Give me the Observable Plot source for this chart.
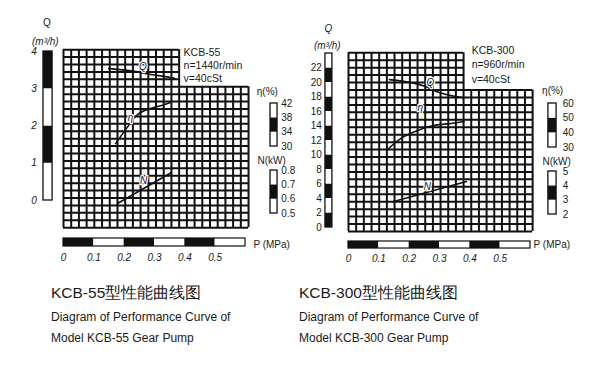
<!DOCTYPE html>
<html><head><meta charset="utf-8">
<script src="https://cdn.jsdelivr.net/npm/d3@7"></script>
<script src="https://cdn.jsdelivr.net/npm/@observablehq/plot@0.6"></script>
<style>
html,body{margin:0;padding:0;background:#fff;}
#root{position:relative;width:592px;height:369px;overflow:hidden;font-family:"Liberation Sans",Arial,sans-serif;color:#1a1a1a;}
#root svg{position:absolute;left:0;top:0;}
.cap{position:absolute;white-space:nowrap;}
.t1{font-size:15.5px;line-height:20px;}
.t2{font-size:12px;line-height:16px;}
</style></head>
<body><div id="root"></div>
<script>
const FONT = '"Liberation Sans", Arial, sans-serif';
const INK = "#111";

// shared pressure axis
const P_TICKS = [0, 0.1, 0.2, 0.3, 0.4, 0.5];
const P_BAR = [0, 0.1, 0.2, 0.3, 0.4, 0.5, 0.6];

// ---- KCB-55 ----
const L_Q_BAR = [0, 1, 2, 3, 4];
const L_Q_TICKS = [0, 1, 2, 3, 4];
const L_ETA_BAR = [30, 34, 38, 42];
const L_N_BAR = [0.5, 0.6, 0.7, 0.8];
const L_Q_P = [0.149, 0.24, 0.27, 0.353, 0.366];
const L_Q_V = [3.54, 3.46, 3.41, 3.30, 3.28];
const L_ETA_P = [0.172, 0.195, 0.215, 0.231, 0.254, 0.287, 0.32, 0.353];
const L_ETA_V = [30.8, 33.6, 35.9, 37.8, 39.5, 40.6, 41.4, 42.3];
const L_N_P = [0.178, 0.356];
const L_N_V = [0.57, 0.786];
const L_INFO = ["KCB-55", "n=1440r/min", "v=40cSt"];

// ---- KCB-300 ----
const R_Q_BAR = [0, 2, 4, 6, 8, 10, 12, 14, 16, 18, 20, 22, 24];
const R_Q_TICKS = [0, 2, 4, 6, 8, 10, 12, 14, 16, 18, 20, 22];
const R_ETA_BAR = [30, 40, 50, 60];
const R_N_BAR = [2, 3, 4, 5];
const R_Q_P = [0.135, 0.254, 0.281, 0.38];
const R_Q_V = [20.4, 19.45, 18.9, 17.9];
const R_ETA_P = [0.129, 0.172, 0.228, 0.281, 0.337, 0.38];
const R_ETA_V = [28.6, 36.1, 41.6, 45.0, 46.4, 47.7];
const R_N_P = [0.149, 0.389];
const R_N_V = [2.91, 4.3];
const R_INFO = ["KCB-300", "n=960r/min", "v=40cSt"];

const segs = (b, firstDark) => d3.range(b.length - 1).map(i => ({lo: b[i], hi: b[i + 1], fill: ((i % 2 === 0) === firstDark) ? INK : "#fff"}));
const pts = (ps, vs) => ps.map((p, i) => ({p, v: vs[i]}));
const fmtP = d => d === 0 ? "0" : d3.format(".1f")(d);

function layer(xRange, yDomain, yRange, marks) {
  return Plot.plot({
    width: 592, height: 270, margin: 0,
    x: {domain: [0, 0.6], range: xRange, axis: null},
    y: {domain: yDomain, range: yRange, axis: null},
    color: {type: "identity"},
    style: {background: "transparent", overflow: "visible", fontFamily: FONT, color: "#1a1a1a"},
    marks
  });
}

function gridMarks(pExt, qExt) {
  const [p0, p1] = pExt, [q0, q1] = qExt;
  const dp = (p1 - p0) / 24, dq = (q1 - q0) / 24;
  const pUp = p0 + 15 * dp, qUp = q1 - 5 * dq;
  const cols = d3.range(25).map(i => ({p: p0 + i * dp, lo: q0, hi: i <= 15 ? q1 : qUp}));
  const rows = d3.range(25).map(j => ({q: q0 + j * dq, lo: p0, hi: j > 19 ? pUp : p1}));
  return [
    Plot.ruleX(cols, {x: "p", y1: "lo", y2: "hi", stroke: INK, strokeWidth: 2}),
    Plot.ruleY(rows, {y: "q", x1: "lo", x2: "hi", stroke: INK, strokeWidth: 2})
  ];
}

function barMarks(bounds, firstDark, x1, x2) {
  return [
    Plot.rect(segs(bounds, firstDark), {x1, x2, y1: "lo", y2: "hi", fill: "fill"}),
    Plot.rect([0], {x1, x2, y1: bounds[0], y2: bounds[bounds.length - 1], fill: "none", stroke: INK, strokeWidth: 1.3})
  ];
}

function pBarMarks(y1, y2, labelY, unitX, unitY) {
  return [
    Plot.rect(segs(P_BAR, true), {x1: "lo", x2: "hi", y1, y2, fill: "fill"}),
    Plot.rect([0], {x1: 0, x2: 0.6, y1, y2, fill: "none", stroke: INK, strokeWidth: 1.2}),
    Plot.text(P_TICKS, {x: d => d, y: labelY, text: fmtP, fontStyle: "italic", fontSize: 10}),
    Plot.text(["P (MPa)"], {x: unitX, y: unitY, text: d => d, textAnchor: "start", fontSize: 10})
  ];
}

const curveLabel = (t, x, y) => Plot.text([t], {x, y, text: d => d, fontStyle: "italic", fontSize: 10, stroke: "#fff", strokeWidth: 2.5, fill: "#222"});
const curve = (data, c) => Plot.line(data, {x: "p", y: "v", curve: c, stroke: INK, strokeWidth: 1.6});

const root = document.getElementById("root");

// ===== Left panel (KCB-55) =====
const LX = [63, 245];
root.append(layer(LX, [0, 4], [200, 51], [
  ...gridMarks([0, 0.61], [-0.73, 4.05]),
  ...barMarks(L_Q_BAR, false, -0.066, -0.036),
  Plot.text(L_Q_TICKS, {x: -0.088, y: d => d, text: d => String(d), textAnchor: "end", fontStyle: "italic", fontSize: 10}),
  Plot.text(["Q"], {x: -0.055, y: 4.78, text: d => d, fontSize: 10}),
  Plot.text(["(m³/h)"], {x: -0.06, y: 4.26, text: d => d, fontSize: 10, fontStyle: "italic"}),
  ...pBarMarks(-1.02, -1.235, -1.53, 0.626, -1.18),
  curve(pts(L_Q_P, L_Q_V), "monotone-x"),
  curveLabel("Q", 0.262, 3.6),
  Plot.text(L_INFO, {x: 0.396, y: (d, i) => 3.97 - i * 0.35, text: d => d, textAnchor: "start", fontSize: 10.5})
]));
root.append(layer(LX, [30, 42], [146, 103], [
  ...barMarks(L_ETA_BAR, false, 0.6825, 0.7056),
  Plot.text(L_ETA_BAR, {x: 0.718, y: d => d, text: d => String(d), textAnchor: "start", fontSize: 10}),
  Plot.text(["η(%)"], {x: 0.672, y: 45.4, text: d => d, fontSize: 10}),
  curve(pts(L_ETA_P, L_ETA_V), "natural"),
  curveLabel("η", 0.221, 38.1)
]));
root.append(layer(LX, [0.5, 0.8], [213, 170], [
  ...barMarks(L_N_BAR, false, 0.6825, 0.7056),
  Plot.text(L_N_BAR, {x: 0.718, y: d => d, text: d => d3.format(".1f")(d), textAnchor: "start", fontSize: 10}),
  Plot.text(["N(kW)"], {x: 0.686, y: 0.87, text: d => d, fontSize: 10}),
  curve(pts(L_N_P, L_N_V), "linear"),
  curveLabel("N", 0.264, 0.73)
]));

// ===== Right panel (KCB-300) =====
const RX = [348, 530];
root.append(layer(RX, [0, 24], [227, 53], [
  ...gridMarks([0, 0.607], [-0.55, 24.1]),
  ...barMarks(R_Q_BAR, true, -0.076, -0.053),
  Plot.text(R_Q_TICKS, {x: -0.088, y: d => d, text: d => String(d), textAnchor: "end", fontSize: 10}),
  Plot.text(["Q"], {x: -0.066, y: 27.4, text: d => d, fontSize: 10, fontStyle: "italic"}),
  Plot.text(["(m³/h)"], {x: -0.07, y: 25.0, text: d => d, fontSize: 10, fontStyle: "italic"}),
  ...pBarMarks(-1.93, -2.9, -4.28, 0.61, -2.34),
  curve(pts(R_Q_P, R_Q_V), "monotone-x"),
  curveLabel("Q", 0.27, 19.9),
  Plot.text(R_INFO, {x: 0.406, y: (d, i) => 24.4 - i * 2.0, text: d => d, textAnchor: "start", fontSize: 10.5})
]));
root.append(layer(RX, [30, 60], [147, 103], [
  ...barMarks(R_ETA_BAR, false, 0.659, 0.686),
  Plot.text(R_ETA_BAR, {x: 0.706, y: d => d, text: d => String(d), textAnchor: "start", fontSize: 10}),
  Plot.text(["η(%)"], {x: 0.673, y: 68.9, text: d => d, fontSize: 10}),
  curve(pts(R_ETA_P, R_ETA_V), "natural"),
  curveLabel("η", 0.237, 57.3)
]));
root.append(layer(RX, [2, 5], [214, 171], [
  ...barMarks(R_N_BAR, false, 0.659, 0.686),
  Plot.text(R_N_BAR, {x: 0.706, y: d => d, text: d => String(d), textAnchor: "start", fontSize: 10}),
  Plot.text(["N(kW)"], {x: 0.686, y: 5.7, text: d => d, fontSize: 10}),
  curve(pts(R_N_P, R_N_V), "linear"),
  curveLabel("N", 0.26, 3.95)
]));

// ===== Captions =====
const CAPTIONS = [
  {left: 51, lines: ["KCB-55型性能曲线图", "Diagram of Performance Curve of", "Model KCB-55 Gear Pump"]},
  {left: 299, lines: ["KCB-300型性能曲线图", "Diagram of Performance Curve of", "Model KCB-300 Gear Pump"]}
];
const CAP_TOPS = [283, 309, 330];
for (const c of CAPTIONS) {
  c.lines.forEach((t, i) => {
    const d = document.createElement("div");
    d.className = "cap " + (i === 0 ? "t1" : "t2");
    d.style.left = c.left + "px";
    d.style.top = CAP_TOPS[i] + "px";
    d.textContent = t;
    root.append(d);
  });
}
</script></body></html>
